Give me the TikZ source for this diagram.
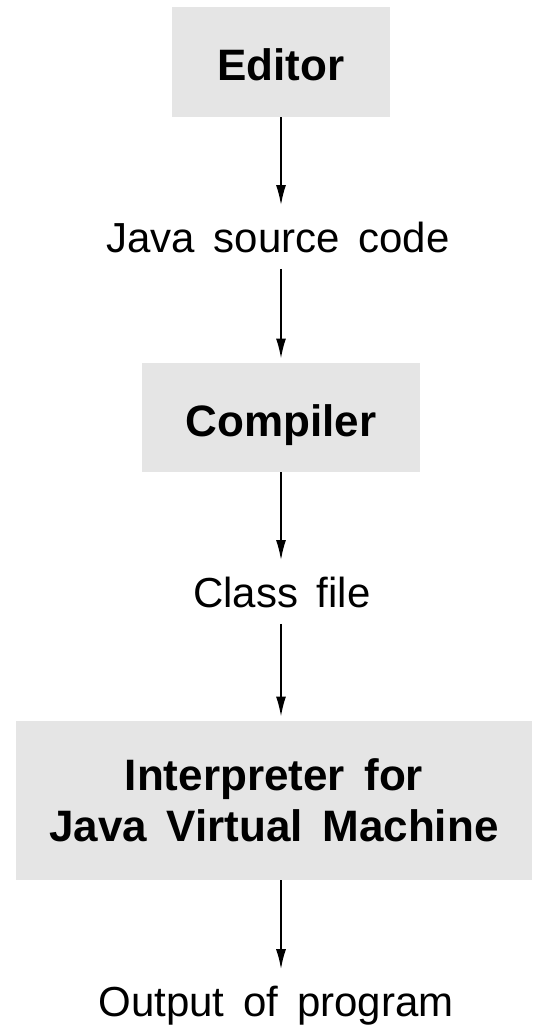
\documentclass[tikz,border=0pt]{standalone}
\usepackage{fontspec}
\setmainfont{Liberation Sans}[WordSpace=1.6]
\usepackage{tikz}
\usetikzlibrary{arrows.meta, positioning}
\newcommand{\figArrow}{{Latex[length=10pt, width=5pt]}}

\begin{document}
\begin{tikzpicture}[x=0.5pt, y=-0.5pt,
	stage/.style={fill=gray!20, inner sep=0pt, align=center, font=\fontsize{22}{25.5}\selectfont\bfseries},
	oneline/.style={text height=18.5pt, text depth=0pt},
	product/.style={anchor=base, inner xsep=0pt, inner ysep=8pt, font=\fontsize{21}{25}\selectfont},
	flow/.style={line width=0.9pt, -\figArrow}]
	\useasboundingbox (0,0) rectangle (532,1030);
	
	\node[stage, oneline, minimum width=109pt, minimum height=55pt]		(editor)	at (281,62)		{Editor};
	\node[product]		(source)	at (278,252)	{Java source code};
	\node[stage, oneline, minimum width=139pt, minimum height=54.5pt]		(compiler)	at (281,417.5)	{Compiler};
	\node[product]		(classfile)	at (282,607)	{Class file};
	\node[stage, minimum width=258pt, minimum height=79.5pt]		(jvm)		at (274,800.5)	{Interpreter for\\Java Virtual Machine};
	\node[product]		(output)	at (276,1016)	{Output of program};
	
	\draw[flow]	(editor.south -| 281,0) -- (source.north -| 281,0);
	\draw[flow, shorten >=2pt]	(source.south -| 281,0) -- (compiler.north -| 281,0);
	\draw[flow]	(compiler.south -| 281,0) -- (classfile.north -| 281,0);
	\draw[flow, shorten >=2pt]	(classfile.south -| 281,0) -- (jvm.north -| 281,0);
	\draw[flow]	(jvm.south -| 281,0) -- (output.north -| 281,0);
\end{tikzpicture}
\end{document}
